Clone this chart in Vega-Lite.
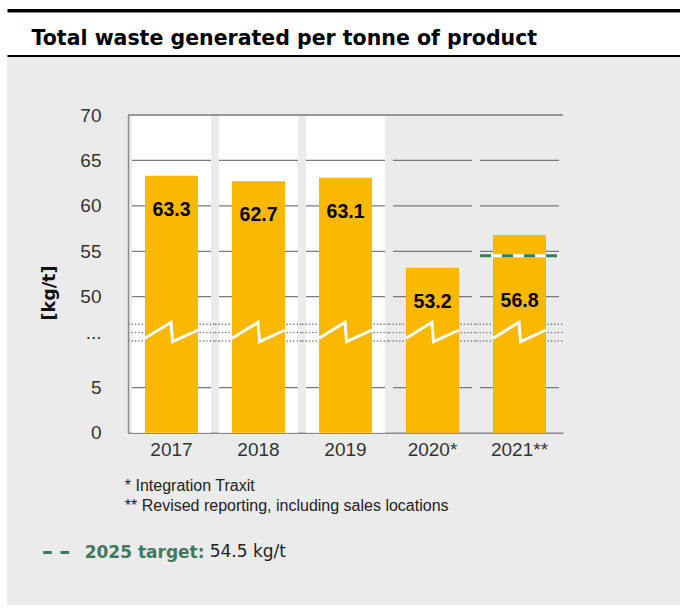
{
  "$schema": "https://vega.github.io/schema/vega-lite/v6.json",
  "width": 673,
  "height": 548,
  "autosize": "none",
  "padding": {"left": 7, "top": 57, "right": 0, "bottom": 3},
  "background": "white",
  "config": {"view": {"fill": "#ebebeb", "stroke": null}, "font": "Liberation Sans"},
  "data": {"values": [
    {"year": "2017", "value": 63.3},
    {"year": "2018", "value": 62.7},
    {"year": "2019", "value": 63.1},
    {"year": "2020*", "value": 53.2},
    {"year": "2021**", "value": 56.8, "target": 54.5}
  ]},
  "resolve": {"scale": {"x": "independent"}, "axis": {"x": "independent"}},
  "layer": [
    {
      "encoding": {
        "x": {
          "field": "year", "type": "nominal",
          "scale": {"domain": ["2017", "2018", "2019", "2020*", "2021**"], "range": [121, 556], "paddingInner": 0, "paddingOuter": 0},
          "axis": {
            "orient": "bottom", "offset": -172.3, "ticks": false, "tickSize": 0, "labelAngle": 0,
            "labelFont": "Liberation Sans", "labelFontSize": 19, "labelColor": "#333333", "labelPadding": 8, "labelBaseline": "top",
            "domainColor": "#8c8c8c", "domainWidth": 1.5, "grid": false, "labelFlush": false,
            "title": ["\u00a0* Integration Traxit", "** Revised reporting, including sales locations"],
            "titleFont": "Liberation Sans", "titleFontSize": 16, "titleFontWeight": "normal", "titleColor": "#222222",
            "titleAnchor": "start", "titleAlign": "left", "titleBaseline": "alphabetic", "titleLineHeight": 20,
            "titleX": 117.3, "titleY": 58
          }
        }
      },
      "layer": [
        {
          "transform": [{"filter": "datum.year < '2020'"}],
          "mark": {"type": "bar", "color": "white", "width": {"band": 0.91}},
          "encoding": {"y": {"datum": 70, "type": "quantitative"}, "y2": {"datum": 0}}
        },
        {"mark": {"type": "tick", "color": "#7a7a7a", "thickness": 1.3, "size": 79, "opacity": 1}, "encoding": {"y": {"datum": 5, "type": "quantitative"}}},
        {"mark": {"type": "tick", "color": "#7a7a7a", "thickness": 1.3, "size": 79, "opacity": 1}, "encoding": {"y": {"datum": 50, "type": "quantitative"}}},
        {"mark": {"type": "tick", "color": "#7a7a7a", "thickness": 1.3, "size": 79, "opacity": 1}, "encoding": {"y": {"datum": 55, "type": "quantitative"}}},
        {"mark": {"type": "tick", "color": "#7a7a7a", "thickness": 1.3, "size": 79, "opacity": 1}, "encoding": {"y": {"datum": 60, "type": "quantitative"}}},
        {"mark": {"type": "tick", "color": "#7a7a7a", "thickness": 1.3, "size": 79, "opacity": 1}, "encoding": {"y": {"datum": 65, "type": "quantitative"}}},
        {"mark": {"type": "tick", "color": "#7a7a7a", "thickness": 1.3, "size": 87, "opacity": 1}, "encoding": {"y": {"datum": 70, "type": "quantitative"}}},
        {
          "mark": {"type": "point", "shape": "M-1,-0.192L1,-0.192M-1,0L1,0M-1,0.192L1,0.192", "size": 7569, "filled": false, "stroke": "#7f7f7f", "strokeWidth": 1.4, "strokeDash": [1.4, 2], "opacity": 1},
          "encoding": {"y": {"datum": 30, "type": "quantitative"}}
        },
        {
          "mark": {"type": "bar", "color": "#fab800", "width": {"band": 0.61}},
          "encoding": {
            "y": {
              "field": "value", "type": "quantitative",
              "scale": {"type": "linear", "domain": [0, 5, 25, 35, 50, 70], "range": [375.7, 330.7, 284, 267.3, 239.7, 58], "zero": false, "nice": false},
              "axis": {
                "orient": "left", "offset": -121, "values": [0, 5, 30, 50, 55, 60, 65, 70],
                "labelExpr": "datum.value == 30 ? '...' : datum.label",
                "ticks": false, "tickSize": 0, "grid": false, "labelPadding": 27, "labelFlush": false,
                "labelFont": "Liberation Sans", "labelFontSize": 19, "labelColor": "#333333", "labelOverlap": false, "labelBaseline": "middle",
                "domainColor": "#8c8c8c", "domainWidth": 1.5,
                "title": "[kg/t]", "titleFont": "DejaVu Sans", "titleFontSize": 17.5, "titleFontWeight": "bold", "titleColor": "#111111",
                "titleAngle": -90, "titleAlign": "center", "titleBaseline": "middle", "titleX": -79, "titleY": 235.5
              }
            }
          }
        },
        {
          "mark": {"type": "point", "shape": "M-1,0.21L-0.02,-0.39L0.04,0.34L1,-0.1", "size": 2809, "filled": false, "stroke": "white", "strokeWidth": 3, "opacity": 1},
          "encoding": {"y": {"datum": 30, "type": "quantitative"}}
        },
        {
          "transform": [{"filter": "datum.year != '2021**'"}],
          "mark": {"type": "text", "font": "Liberation Sans", "fontSize": 19.5, "fontWeight": "bold", "color": "black", "baseline": "middle", "dy": 34},
          "encoding": {"y": {"field": "value", "type": "quantitative"}, "text": {"field": "value", "type": "quantitative", "format": ".1f"}}
        },
        {
          "transform": [{"filter": "datum.year == '2021**'"}],
          "mark": {"type": "text", "font": "Liberation Sans", "fontSize": 19.5, "fontWeight": "bold", "color": "black", "baseline": "middle", "dy": 66},
          "encoding": {"y": {"field": "value", "type": "quantitative"}, "text": {"field": "value", "type": "quantitative", "format": ".1f"}}
        },
        {
          "transform": [{"filter": "isValid(datum.target)"}],
          "mark": {"type": "point", "shape": "M-1,0L1,0", "size": 6241, "filled": false, "stroke": "white", "strokeWidth": 3, "opacity": 1},
          "encoding": {"y": {"field": "target", "type": "quantitative"}}
        },
        {
          "transform": [{"filter": "isValid(datum.target)"}],
          "mark": {"type": "point", "shape": "M-1,0L1,0", "size": 6241, "filled": false, "strokeWidth": 3, "strokeDash": [11, 11], "opacity": 1},
          "encoding": {
            "y": {"field": "target", "type": "quantitative"},
            "color": {
              "datum": "2025 target:", "type": "nominal",
              "scale": {"range": ["#3f7a5d"]},
              "legend": {
                "orient": "none", "legendX": 34.7, "legendY": 481, "padding": 0,
                "title": "54.5 kg/t", "titleOrient": "right", "titleAnchor": "end", "titleBaseline": "bottom",
                "titleFont": "DejaVu Sans", "titleFontSize": 17, "titleFontWeight": "normal", "titleColor": "#222222", "titlePadding": 5,
                "labelFont": "DejaVu Sans", "labelFontSize": 17, "labelFontWeight": "bold", "labelColor": "#3f7a5d", "labelOffset": 14,
                "symbolType": "stroke", "symbolSize": 676, "symbolDash": [8.7, 8.6], "symbolStrokeWidth": 3, "symbolStrokeColor": "#3f7a5d", "symbolOpacity": 1
              }
            }
          }
        }
      ]
    },
    {
      "data": {"values": [{}]},
      "mark": {"type": "rule", "opacity": 0},
      "encoding": {
        "x": {
          "datum": 0, "type": "quantitative", "scale": {"domain": [0, 1]},
          "axis": {
            "orient": "top", "offset": 1.5, "domainColor": "black", "domainWidth": 2, "ticks": false, "labels": false, "grid": false,
            "title": "Total waste generated per tonne of product", "titleFont": "DejaVu Sans", "titleFontSize": 20.5, "titleFontWeight": "bold", "titleColor": "black",
            "titleAnchor": "start", "titleAlign": "left", "titleBaseline": "alphabetic", "titleAngle": 0, "titleX": 24, "titleY": -11
          }
        }
      }
    },
    {
      "data": {"values": [{}]},
      "mark": {"type": "rule", "opacity": 0},
      "encoding": {
        "x": {
          "datum": 0, "type": "quantitative", "scale": {"domain": [0, 1]},
          "axis": {"orient": "top", "offset": 46.7, "domainColor": "black", "domainWidth": 3.5, "ticks": false, "labels": false, "grid": false, "title": null}
        }
      }
    }
  ]
}
